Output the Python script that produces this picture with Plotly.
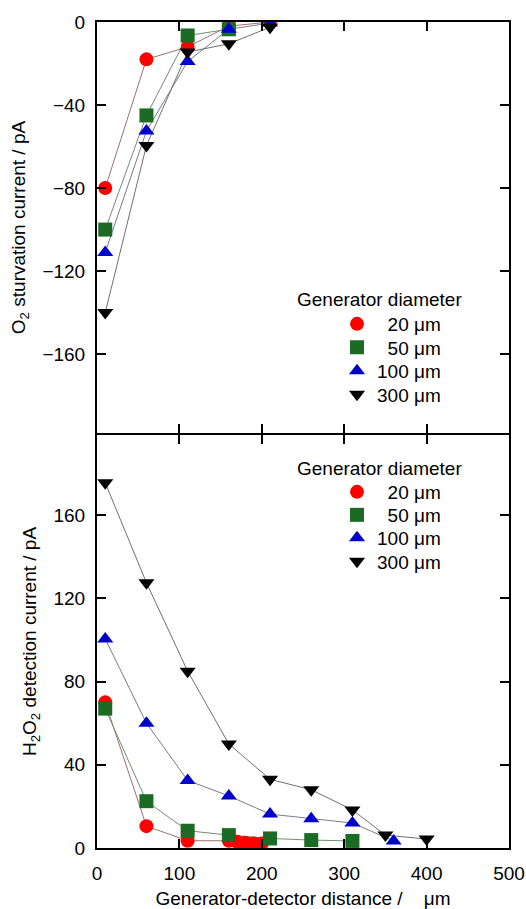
import plotly.graph_objects as go

# ---- data ----
series_names = ["\u200720 \u03bcm", "\u200750 \u03bcm", "100 \u03bcm", "300 \u03bcm"]
colors = ["#ff0000", "#1b6b24", "#0000cc", "#000000"]
line_colors = ["#a07070", "#6f8f70", "#7a7a90", "#707070"]
symbols = ["circle", "square", "triangle-up", "triangle-down"]

# top panel: O2 starvation current (pA)
o2_x = [
    [10, 60, 110, 160, 210],
    [10, 60, 110, 160],
    [10, 60, 110, 160, 210],
    [10, 60, 110, 160, 210],
]
o2_y = [
    [-80, -18, -12, -2, 0],
    [-100, -45, -6.5, -3.5],
    [-111, -52.5, -19, -3.5, -0.5],
    [-140, -59.5, -14.5, -10.5, -2.5],
]

# bottom panel: H2O2 detection current (pA)
h2o2_x = [
    [10, 60, 110, 160, 170, 180, 190, 200],
    [10, 60, 110, 160, 210, 260, 310],
    [10, 60, 110, 160, 210, 260, 310, 360],
    [10, 60, 110, 160, 210, 260, 310, 350, 400],
]
h2o2_y = [
    [70, 10.5, 3.5, 3.5, 3, 2.5, 2.2, 2.2],
    [67, 22.5, 8.3, 6.2, 4.6, 3.8, 3.4],
    [100.5, 60, 32.5, 25, 16.3, 14, 12, 3.4],
    [175.5, 127.5, 85, 50, 33, 28, 18.3, 6.2, 4.3],
]

x_ticks = [0, 100, 200, 300, 400, 500]
o2_ticks = [0, -40, -80, -120, -160]
h2o2_ticks = [0, 40, 80, 120, 160]

FONT = "Liberation Sans, Arial, sans-serif"
W, H = 526, 909
ML, MR, MT, MB = 97, 17, 22, 61
PH = H - MT - MB

def py(pix):
    return (H - MB - pix) / PH

def px(pix):
    return (pix - ML) / (W - ML - MR)

# legend row centres (pixels) for each panel
legend_rows = {"top": [324, 347.5, 371, 394.5], "bottom": [492, 515, 538, 561.5]}

fig = go.Figure()

panels = [
    (o2_x, o2_y, "x", "y", "top", 1),
    (h2o2_x, h2o2_y, "x2", "y2", "bottom", 5),
]
layout_legends = {}
for xs, ys, xa, ya, key, lg0 in panels:
    for i in range(4):
        fig.add_trace(go.Scatter(
            x=xs[i], y=ys[i], mode="lines", xaxis=xa, yaxis=ya,
            line=dict(color=line_colors[i], width=1), showlegend=False,
            hoverinfo="skip"))
    for i in range(4):
        n = lg0 + i
        lname = "legend" if n == 1 else f"legend{n}"
        fig.add_trace(go.Scatter(
            x=xs[i], y=ys[i], mode="markers", xaxis=xa, yaxis=ya,
            name=series_names[i], legend=lname,
            marker=dict(symbol=symbols[i], color=colors[i], size=14,
                        line=dict(width=0))))
        layout_legends[lname] = dict(
            x=px(337), y=py(legend_rows[key][i]), xanchor="left", yanchor="middle",
            bgcolor="rgba(0,0,0,0)", font=dict(size=19), itemwidth=30,
            borderwidth=0)

axis_common = dict(
    showline=True, linecolor="black", linewidth=2, mirror="ticks",
    ticks="inside", ticklen=9, tickwidth=2, tickcolor="black",
    showgrid=False, zeroline=False, automargin=False,
    tickfont=dict(family=FONT, size=19, color="black"),
)

gap = 2 / PH

fig.update_layout(
    width=W, height=H,
    margin=dict(l=ML, r=MR, t=MT, b=MB),
    paper_bgcolor="white", plot_bgcolor="white",
    font=dict(family=FONT, size=19, color="black"),
    xaxis=dict(axis_common, range=[0, 500], tickvals=x_ticks,
               showticklabels=False, anchor="y", domain=[0, 1]),
    yaxis=dict(axis_common, range=[-198, 0], tickvals=o2_ticks,
               domain=[0.5 + gap, 1], anchor="x", ticklabelstandoff=6,
               title=dict(text="O<sub>2</sub> sturvation current / pA",
                          font=dict(size=19), standoff=12)),
    xaxis2=dict(axis_common, range=[0, 500], tickvals=x_ticks,
                anchor="y2", domain=[0, 1], ticklabelstandoff=7,
                title=dict(text="Generator-detector distance /\u00a0\u00a0\u00a0 \u03bcm",
                           font=dict(size=19), standoff=9)),
    yaxis2=dict(axis_common, range=[0, 198.5], tickvals=h2o2_ticks,
                domain=[0, 0.5], anchor="x2", ticklabelstandoff=6,
                title=dict(text="H<sub>2</sub>O<sub>2</sub> detection current / pA",
                           font=dict(size=19), standoff=12)),
    annotations=[
        dict(text="Generator diameter", xref="paper", yref="paper",
             x=px(295), y=py(300), xanchor="left", yanchor="middle",
             showarrow=False, font=dict(size=19)),
        dict(text="Generator diameter", xref="paper", yref="paper",
             x=px(295), y=py(468), xanchor="left", yanchor="middle",
             showarrow=False, font=dict(size=19)),
    ],
    **layout_legends,
)

fig.write_html("out.html")
